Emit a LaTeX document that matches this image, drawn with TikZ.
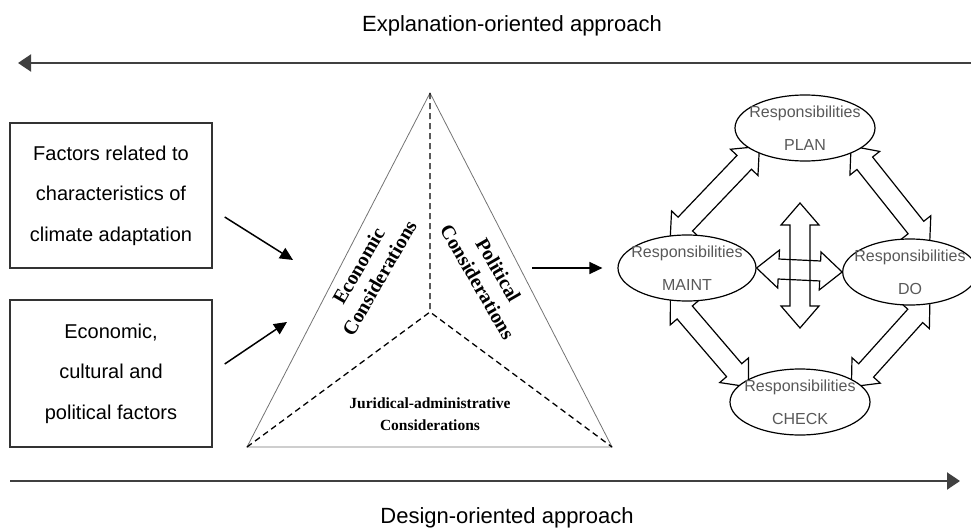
\documentclass[tikz,border=0pt]{standalone}
\usepackage{fontspec}
\setmainfont{Liberation Sans}
\newfontfamily\considfont{Liberation Serif}
\usetikzlibrary{arrows.meta,calc,shapes.geometric,backgrounds}
\tikzset{
    approach-arrow/.style = {draw=black!75, line width=2pt, -{Triangle[length=13pt,width=17pt]}},
    approach-label/.style = {anchor=base, font=\fontsize{22}{26}\selectfont},
    factor-box/.style = {draw=black!80, line width=1.4pt, minimum width=202pt, align=center, font=\fontsize{20}{40.5}\selectfont},
    feed-arrow/.style = {line width=1.5pt, -{Triangle[length=13pt,width=12pt]}},
    tri-edge/.style = {draw=black!55, line width=0.8pt},
    tri-split/.style = {dashed, dash pattern=on 6pt off 4pt, line width=1.3pt},
    consid-label/.style = {align=center, font=\considfont\bfseries\fontsize{20}{24}\selectfont},
    resp-ellipse/.style = {ellipse, draw, line width=1.2pt, fill=white, minimum width=140pt, minimum height=66pt, inner xsep=-8pt, inner ysep=-1pt, align=center, text=black!65, font=\fontsize{16}{33}\selectfont},
    block-arrow/.style = {draw, line width=1.2pt, line join=miter},
}
\newcommand{\blockarrow}[3][0pt]{%
    \coordinate (ba-s) at ($(#2)!-#1!(#3)$);
    \coordinate (ba-e) at ($(#3)!-#1!(#2)$);
    \draw[block-arrow] ($(ba-s)!22pt!(ba-e)!10pt!90:(ba-e)$) -- ($(ba-s)!22pt!(ba-e)!19pt!90:(ba-e)$) -- (ba-s)
        -- ($(ba-s)!22pt!(ba-e)!19pt!-90:(ba-e)$) -- ($(ba-s)!22pt!(ba-e)!10pt!-90:(ba-e)$)
        -- ($(ba-e)!22pt!(ba-s)!10pt!90:(ba-s)$) -- ($(ba-e)!22pt!(ba-s)!19pt!90:(ba-s)$) -- (ba-e)
        -- ($(ba-e)!22pt!(ba-s)!19pt!-90:(ba-s)$) -- ($(ba-e)!22pt!(ba-s)!10pt!-90:(ba-s)$) -- cycle;}

\begin{document}
\begin{tikzpicture}[x=1pt, y=-1pt]
\useasboundingbox (0,0) rectangle (971,527);

\node[approach-label] (explain) at (512,32) {Explanation-oriented approach};
\coordinate (explain-start) at (975,63);
\coordinate (explain-end) at (18,63);
\draw[approach-arrow] (explain-start) -- (explain-end);

\node[factor-box, minimum height=145pt] (climate) at (111,195.5) {Factors related to\\characteristics of\\climate adaptation};
\node[factor-box, minimum height=147pt] (context) at (111,373.5) {Economic,\\cultural and\\political factors};

\coordinate (apex) at (430,93);
\coordinate (base-left) at (247,447);
\coordinate (base-right) at (612,447);
\coordinate (centre) at (430,312);
\draw[tri-edge] (apex) -- (base-left) -- (base-right) -- cycle;
\draw[tri-split] (apex) -- (centre) (base-left) -- (centre) -- (base-right);
\node[consid-label, rotate=60] (econ) at (369,272) {Economic\\Considerations};
\node[consid-label, rotate=-60] (polit) at (488,276) {Political\\Considerations};
\node[consid-label, font=\considfont\bfseries\fontsize{15.5}{22}\selectfont] (jurid) at (430,414) {Juridical-administrative\\Considerations};

\coordinate (tri-in1) at (293,260);
\coordinate (tri-in2) at (287,322);
\draw[feed-arrow] ([xshift=12pt,yshift=-21.5pt]climate.east) -- (tri-in1);
\draw[feed-arrow] ([xshift=12pt,yshift=9.5pt]context.east) -- (tri-in2);

\node[resp-ellipse] (plan) at (805,128) {Responsibilities\\PLAN};
\node[resp-ellipse, minimum width=138pt] (maint) at (687,268) {Responsibilities\\MAINT};
\node[resp-ellipse, minimum width=130pt] (do) at (910,272) {Responsibilities\\DO};
\node[resp-ellipse] (check) at (800,402) {Responsibilities\\CHECK};

\coordinate (tri-out) at (532,268);
\draw[feed-arrow] (tri-out) -- ([xshift=-15pt]maint.west);

\begin{pgfonlayer}{background}
\blockarrow[7pt]{plan.205}{maint.110}
\blockarrow[7pt]{plan.335}{do.65}
\blockarrow[7pt]{maint.250}{check.160}
\blockarrow[7pt]{do.295}{check.20}
\end{pgfonlayer}
\coordinate (cross-n) at (800,203);
\coordinate (cross-s) at (800,328);
\blockarrow{cross-n}{cross-s}
\blockarrow{maint.east}{do.west}

\coordinate (design-start) at (10,481);
\coordinate (design-end) at (960,481);
\draw[approach-arrow] (design-start) -- (design-end);
\node[approach-label] (design) at (507,523) {Design-oriented approach};
\end{tikzpicture}
\end{document}
